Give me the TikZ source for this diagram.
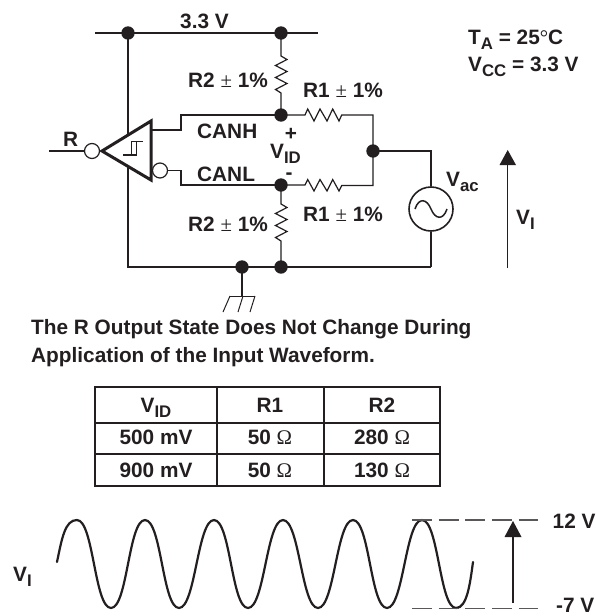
\documentclass[tikz,border=0pt]{standalone}
\usepackage{fontspec}
\setmainfont{Liberation Sans}[BoldFont={Liberation Sans Bold}]
\newfontfamily\symfont{Liberation Serif}
\definecolor{ink}{HTML}{231F20}
\newcommand{\sbsc}[1]{\raisebox{-5pt}{\fontsize{16.8}{18}\selectfont #1}}
\newcommand{\pmthin}{{\normalfont\fontsize{20.8}{22}\selectfont\symfont ±}}
\newcommand{\ohm}{{\normalfont\fontsize{20.8}{22}\selectfont\symfont Ω}}
\newcommand{\degthin}{{\normalfont\fontsize{20.8}{22}\selectfont\symfont °}}
\tikzset{
  x=1pt,y=-1pt,
  every path/.style={color=ink,line join=miter},
  wire/.style={draw=ink,line width=1.2pt},
  thickline/.style={draw=ink,line width=3pt,line join=miter},
  dot/.style={circle,fill=ink,draw=none,minimum size=13.4pt,inner sep=0pt},
  bubble/.style={circle,draw=ink,fill=white,line width=1.2pt,minimum size=15pt,inner sep=0pt},
  lab/.style={anchor=base west,inner sep=0pt,text=ink,font=\fontsize{20.8}{22}\selectfont\bfseries},
  ctr/.style={anchor=base,inner sep=0pt,text=ink,font=\fontsize{20.8}{22}\selectfont\bfseries},
  grid/.style={draw=ink,line width=2pt},
  wave/.style={draw=ink,line width=2.2pt,line cap=round},
  lvl/.style={draw=ink!75,line width=1.2pt,dash pattern=on 20pt off 6.7pt},
  tip/.style={fill=ink,draw=none},
}
\begin{document}
\begin{tikzpicture}
\useasboundingbox (0,0) rectangle (596,616);
% junctions
\node[dot] (vl) at (128,33) {};
\node[dot] (vr) at (281,33) {};
\node[dot] (ch) at (281,115) {};
\node[dot] (cl) at (281,185) {};
\node[dot] (gg) at (242,267) {};
\node[dot] (gr) at (281,267) {};
\node[dot] (mid) at (373,151) {};
\coordinate (railL) at (95,33);
\coordinate (railR) at (318,33);
\coordinate (botL) at (128,267);
\coordinate (botR) at (431,267);
% rails
\draw[wire] (railL) -- (vl.center) -- (vr.center) -- (railR);
\draw[wire] (vl.center) -- (botL) -- (gg.center) -- (gr.center) -- (botR);
% comparator
\node[circle,draw=ink,line width=1.6pt,minimum size=44pt,inner sep=0pt,fill=white] (ac) at (431,209) {};
\draw[thickline,fill=white] (102,151) coordinate (apex) -- (151,121) -- (151,180) -- cycle;
\draw[wire] (123.3,155) -- (136.7,155) -- (136.7,141.3);
\draw[wire] (131.7,155) -- (131.7,141.3) -- (143.3,141.3);
\node[bubble] (bo) at (92,151) {};
\node[bubble] (bl) at (160,170.5) {};
\coordinate (rin) at (49,151);
\draw[wire] (rin) -- (bo.west);
\draw[wire] (151,130) -- (181,130) -- (181,115) -- (ch.center);
\draw[wire] (bl.east) -- (181,170.5) -- (181,185) -- (cl.center);
% R2 resistors
\draw[wire] (vr.center) -- (281,56) -- (287,59.5) -- (275.5,65.5) -- (287,71.5) -- (275.5,77.5) -- (287,83.5) -- (275.5,89.5) -- (281,93) -- (ch.center);
\draw[wire] (cl.center) -- (281,204) -- (287,207.5) -- (275.5,213.5) -- (287,219.5) -- (275.5,225.5) -- (287,231.5) -- (275.5,237.5) -- (281,241) -- (gr.center);
% R1 resistors
\draw[wire] (ch.center) -- (305,115) -- (307.7,109) -- (314,121) -- (320,109) -- (327,121) -- (332.7,109) -- (339,121) -- (341.7,115) -- (373,115) -- (mid.center);
\draw[wire] (cl.center) -- (305,185) -- (307.7,179.5) -- (314,191) -- (320,179.5) -- (327,191) -- (332.7,179.5) -- (339,191) -- (341.7,185.5) -- (373,185.5) -- (mid.center);
% source
\draw[wire] (mid.center) -- (431,151) -- (ac.north);
\draw[wire] (ac.south) -- (botR);
\draw[draw=ink,line width=1.5pt] (415,209) .. controls (419,197) and (427,199) .. (431,209) .. controls (435,219) and (443,221) .. (447,209);
% ground
\coordinate (gb) at (242,296);
\draw[wire] (gg.center) -- (gb);
\draw[draw=ink,line width=1pt] (230,296) -- (255,296);
\draw[draw=ink,line width=1pt] (230,296) -- (223,312);
\draw[draw=ink,line width=1pt] (243,296) -- (238,312);
\draw[draw=ink,line width=1pt] (255,296) -- (250,312);
% VI arrow
\coordinate (vib) at (507.7,268);
\coordinate (vit) at (507.7,160);
\draw[wire] (vib) -- (vit);
\fill[tip] (507.7,150) -- (516,165) -- (499.5,165) -- cycle;
% labels
\node[lab] (t33) at (180,28) {3.3 V};
\node[lab] (tr2a) at (188,87) {R2 \pmthin\ 1\%};
\node[lab] (tr2b) at (188,231) {R2 \pmthin\ 1\%};
\node[lab] (tr1a) at (303,97) {R1 \pmthin\ 1\%};
\node[lab] (tr1b) at (303,221) {R1 \pmthin\ 1\%};
\node[lab] (tch) at (197,138) {CANH};
\node[lab] (tcl) at (197,181) {CANL};
\node[ctr] (tp) at (291,140) {+};
\node[lab] (tvid) at (270,158) {V\sbsc{ID}};
\node[ctr] (tm) at (289,179.6) {-};
\node[lab] (tR) at (63,146) {R};
\node[lab] (tta) at (468,44) {T\sbsc{A} = 25\degthin C};
\node[lab] (tvcc) at (468,71) {V\sbsc{CC} = 3.3 V};
\node[lab] (tvac) at (446,186) {V\sbsc{ac}};
\node[lab] (tvi) at (516,224) {V\sbsc{I}};
\node[lab] (n1) at (31,334) {The R Output State Does Not Change During};
\node[lab] (n2) at (31,362) {Application of the Input Waveform.};
% table
\draw[grid] (95,387) rectangle (440,486);
\draw[grid] (95,423) -- (440,423);
\draw[grid] (95,454) -- (440,454);
\draw[grid] (217,387) -- (217,486);
\draw[grid] (324,387) -- (324,486);
\node[ctr] (c11) at (156,412) {V\sbsc{ID}};
\node[ctr] (c12) at (270,412) {R1};
\node[ctr] (c13) at (382,412) {R2};
\node[ctr] (c21) at (156,444) {500 mV};
\node[ctr] (c22) at (270,444) {50 \ohm};
\node[ctr] (c23) at (382,444) {280 \ohm};
\node[ctr] (c31) at (156,477) {900 mV};
\node[ctr] (c32) at (270,477) {50 \ohm};
\node[ctr] (c33) at (382,477) {130 \ohm};
% waveform
\draw[wave] (57,562) .. controls (62,538) and (65,520) .. (77,520)
  .. controls +(16.5,0) and +(-16.5,0) .. (111,608)
  .. controls +(16.5,0) and +(-16.5,0) .. (145,520)
  .. controls +(16.5,0) and +(-16.5,0) .. (179,608)
  .. controls +(16.5,0) and +(-16.5,0) .. (214,520)
  .. controls +(16.5,0) and +(-16.5,0) .. (248,608)
  .. controls +(16.5,0) and +(-16.5,0) .. (283,520)
  .. controls +(16.5,0) and +(-16.5,0) .. (318,608)
  .. controls +(16.5,0) and +(-16.5,0) .. (353,520)
  .. controls +(16.5,0) and +(-16.5,0) .. (387,608)
  .. controls +(16.5,0) and +(-16.5,0) .. (422,520)
  .. controls +(16.5,0) and +(-16.5,0) .. (456,608)
  .. controls (467,608) and (470,584) .. (473,562);
\coordinate (d1a) at (412,520); \coordinate (d1b) at (538,520);
\coordinate (d2a) at (412,608.5); \coordinate (d2b) at (538,608.5);
\draw[lvl] (d1a) -- (d1b);
\draw[lvl] (d2a) -- (d2b);
\coordinate (ab) at (513,603); \coordinate (at) at (513,530);
\draw[wire] (ab) -- (at);
\fill[tip] (513,521) -- (521.5,537) -- (504.5,537) -- cycle;
\node[lab] (t12) at (552.5,528) {12 V};
\node[lab] (tm7) at (556,612.5) {-7 V};
\node[lab] (tvi2) at (13,581) {V\sbsc{I}};
\end{tikzpicture}
\end{document}
